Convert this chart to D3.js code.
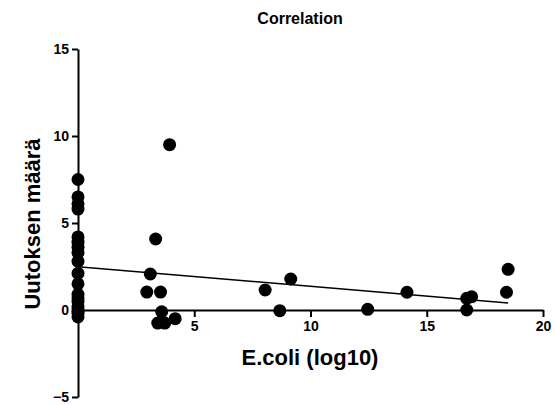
<!DOCTYPE html>
<html><head><meta charset="utf-8">
<script src="https://cdn.jsdelivr.net/npm/d3@7"></script>
<style>body{margin:0;background:#fff}svg{display:block}text{font-family:"Liberation Sans",Arial,sans-serif;font-weight:bold;fill:#000}</style>
</head><body>
<svg id="c" width="555" height="405"></svg>
<script>
const title = "Correlation";
const xLabel = "E.coli (log10)";
const yLabel = "Uutoksen määrä";
const xTicks = [5, 10, 15, 20];
const yTicks = [-5, 0, 5, 10, 15];
const xValues = [0,0,0,0,0,0,0,0,0,0,0,0,0,0,0,0,0,0,0,
  3.94,3.34,3.11,2.96,3.55,3.6,3.43,3.73,4.18,
  8.05,9.15,8.68,12.46,14.15,16.72,16.72,16.93,18.5,18.43];
const yValues = [7.5,6.5,6.1,5.8,4.2,3.9,3.6,3.3,2.8,2.1,1.5,0.9,0.5,0.2,0,-0.2,-0.4,-0.1,0.7,
  9.5,4.08,2.07,1.03,1.03,-0.1,-0.75,-0.75,-0.5,
  1.15,1.78,-0.04,0.04,1.02,0,0.67,0.76,2.34,1.02];
const fitIntercept = 2.49;
const fitSlope = -0.113;
const fitRange = [0, 18.5];

const svg = d3.select("#c");
const x = d3.scaleLinear().domain([0, 20]).range([78, 543]);
const y = d3.scaleLinear().domain([-5, 15]).range([397, 49]);

const xAxis = svg.append("g").attr("transform", `translate(0,${y(0)})`)
  .call(d3.axisBottom(x).tickValues(xTicks).tickSize(7).tickPadding(4).tickSizeOuter(0));
const yAxis = svg.append("g").attr("transform", `translate(${x(0)},0)`)
  .call(d3.axisLeft(y).tickValues(yTicks).tickSize(6).tickPadding(3).tickSizeOuter(0));
[xAxis, yAxis].forEach(a => {
  a.select(".domain").attr("stroke", "#000").attr("stroke-width", 2);
  a.selectAll(".tick line").attr("stroke", "#000").attr("stroke-width", 2);
  a.selectAll(".tick text").style("font-size", "14px").style("font-weight", "bold")
    .attr("font-family", "Liberation Sans, Arial, sans-serif").attr("fill", "#000");
});

svg.append("line")
  .attr("x1", x(fitRange[0])).attr("y1", y(fitIntercept + fitSlope * fitRange[0]))
  .attr("x2", x(fitRange[1])).attr("y2", y(fitIntercept + fitSlope * fitRange[1]))
  .attr("stroke", "#000").attr("stroke-width", 1.6);

svg.append("g").selectAll("circle").data(xValues.map((v, i) => [v, yValues[i]]))
  .join("circle").attr("cx", d => x(d[0])).attr("cy", d => y(d[1])).attr("r", 6.5).attr("fill", "#000");

svg.append("text").attr("x", 300).attr("y", 24).attr("text-anchor", "middle")
  .style("font-size", "16px").text(title);
svg.append("text").attr("x", 310).attr("y", 365).attr("text-anchor", "middle")
  .style("font-size", "22px").text(xLabel);
svg.append("text").attr("transform", "translate(40,224) rotate(-90)").attr("text-anchor", "middle")
  .style("font-size", "22px").text(yLabel);
</script>
</body></html>
